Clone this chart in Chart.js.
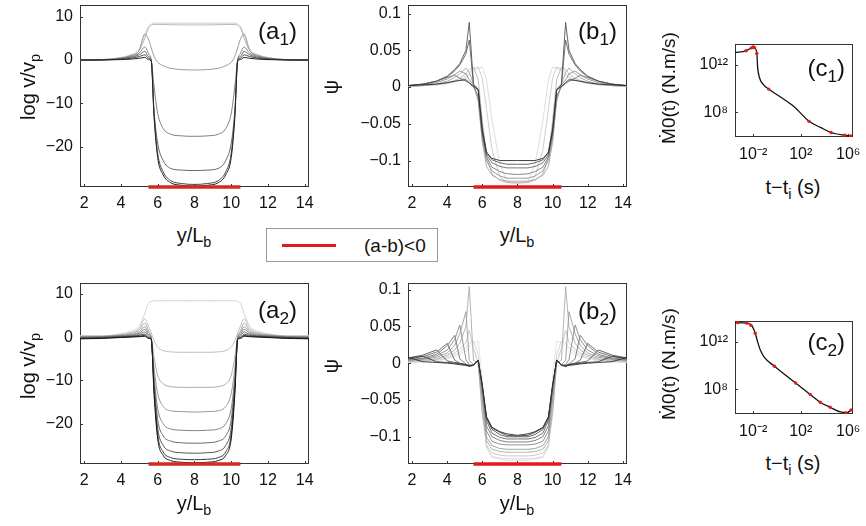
<!DOCTYPE html>
<html>
<head>
<meta charset="utf-8">
<script src="https://cdn.jsdelivr.net/npm/chart.js@4.4.0/dist/chart.umd.min.js"></script>
<style>
  body { margin: 0; background: #fff; }
  #wrap { position: relative; width: 866px; height: 526px; overflow: hidden;
          font-family: 'Liberation Sans', Arial, sans-serif; color: #111; }
  .pane { position: absolute; }
  .lbl { position: absolute; white-space: nowrap; line-height: 1; }
  .c { transform: translate(-50%, -50%); }
  .r { transform: translate(-50%, -50%) rotate(-90deg); }
  .t { transform: translateY(-50%); }
  .lbl sub { font-size: 0.72em; vertical-align: -0.35em; line-height: 0; }
  .tag { font-size: 24px; }
  .ax { font-size: 20px; }
  #legend { position: absolute; left: 266px; top: 228px; width: 172px; height: 34px;
            box-sizing: border-box; border: 1px solid #999; background: #fff; }
  #legend .swatch { position: absolute; left: 15px; top: 15px; width: 54px; height: 3px; background: #e31a1c; }
  #legend .txt { position: absolute; left: 97px; top: 16px; font-size: 19px; line-height: 1; transform: translateY(-50%); }
</style>
</head>
<body>
<div id="wrap">
  <div class="pane" style="left:0;top:0"><canvas id="a1" width="321" height="217"></canvas></div>
  <div class="pane" style="left:330px;top:0"><canvas id="b1" width="309" height="217"></canvas></div>
  <div class="pane" style="left:660px;top:0"><canvas id="c1" width="206" height="167"></canvas></div>
  <div class="pane" style="left:0;top:278px"><canvas id="a2" width="321" height="216"></canvas></div>
  <div class="pane" style="left:330px;top:278px"><canvas id="b2" width="309" height="216"></canvas></div>
  <div class="pane" style="left:660px;top:270px"><canvas id="c2" width="206" height="174"></canvas></div>

  <div class="lbl ax r" style="left:28px;top:87px">log v/v<sub>p</sub></div>
  <div class="lbl ax r" style="left:28px;top:366px">log v/v<sub>p</sub></div>
  <div class="lbl ax r" style="left:331px;top:87px">ψ</div>
  <div class="lbl ax r" style="left:331px;top:366px">ψ</div>
  <div class="lbl ax r" style="left:668px;top:88px;font-size:19px">Ṁ0(t) (N.m/s)</div>
  <div class="lbl ax r" style="left:668px;top:364px;font-size:19px">Ṁ0(t) (N.m/s)</div>
  <div class="lbl ax c" style="left:194px;top:235px">y/L<sub>b</sub></div>
  <div class="lbl ax c" style="left:517px;top:235px">y/L<sub>b</sub></div>
  <div class="lbl ax c" style="left:194px;top:503px">y/L<sub>b</sub></div>
  <div class="lbl ax c" style="left:517px;top:503px">y/L<sub>b</sub></div>
  <div class="lbl ax c" style="left:793px;top:187px">t−t<sub>i</sub> (s)</div>
  <div class="lbl ax c" style="left:793px;top:463px">t−t<sub>i</sub> (s)</div>

  <div class="lbl tag t" style="right:569px;top:31px">(a<sub>1</sub>)</div>
  <div class="lbl tag t" style="right:249px;top:31px">(b<sub>1</sub>)</div>
  <div class="lbl tag t" style="right:21px;top:68px">(c<sub>1</sub>)</div>
  <div class="lbl tag t" style="right:569px;top:310px">(a<sub>2</sub>)</div>
  <div class="lbl tag t" style="right:249px;top:311px">(b<sub>2</sub>)</div>
  <div class="lbl tag t" style="right:21px;top:342px">(c<sub>2</sub>)</div>

  <div id="legend"><div class="swatch"></div><div class="txt">(a-b)&lt;0</div></div>
</div>

<script>
const FONT = "'Liberation Sans', Arial, sans-serif";

// positions along the fault, y/Lb
const xA = [1.78, 3, 4, 4.5, 5, 5.3, 5.5, 5.65, 5.8, 6, 6.3, 6.7, 7.3, 8, 8.7, 9.3, 9.7, 10, 10.2, 10.35, 10.5, 10.7, 11, 11.5, 12, 13, 14.23];
const xB = [1.775, 2.62, 3.39, 4.01, 4.43, 4.72, 5.07, 5.26, 5.5, 5.77, 6.0, 6.24, 6.55, 7.0, 7.4, 8, 8.6, 9.0, 9.45, 9.76, 10.0, 10.23, 10.5, 10.74, 10.93, 11.28, 11.57, 11.99, 12.61, 13.38, 14.23];

// (a1) log v/vp snapshots
const a1Curves = [
  [0, 0.1, 0.6, 1.2, 2.6, 5.8, 7.8, 8.3, 8.5, 8.5, 8.5, 8.5, 8.5, 8.5, 8.5, 8.5, 8.5, 8.5, 8.5, 8.3, 7.8, 5.8, 2.6, 1.2, 0.6, 0.1, 0],
  [0, 0.1, 0.5, 1.0, 2.2, 5.0, 7.4, 8.0, 8.2, 8.2, 8.2, 8.15, 8.1, 8.1, 8.1, 8.15, 8.2, 8.2, 8.2, 8.0, 7.4, 5.0, 2.2, 1.0, 0.5, 0.1, 0],
  [0, 0.1, 0.5, 1.0, 2.3, 6.0, 4.8, 2.8, 0.9, -0.5, -1.3, -1.9, -2.2, -2.3, -2.2, -1.9, -1.3, -0.5, 0.9, 2.8, 4.8, 6.0, 2.3, 1.0, 0.5, 0.1, 0],
  [0, 0.05, 0.4, 0.8, 1.6, 3.0, 1.5, 0, -6, -12.3, -15.8, -17.1, -17.5, -17.6, -17.5, -17.1, -15.8, -12.3, -6, 0, 1.5, 3.0, 1.6, 0.8, 0.4, 0.05, 0],
  [0, 0.05, 0.3, 0.6, 1.2, 2.0, 0.8, 0, -11.5, -19.2, -23.2, -25.0, -25.4, -25.5, -25.4, -25.0, -23.2, -19.2, -11.5, 0, 0.8, 2.0, 1.2, 0.6, 0.3, 0.05, 0],
  [0, 0.03, 0.2, 0.4, 0.8, 1.2, 0.4, -0.2, -12.3, -21.5, -25.8, -27.8, -28.5, -28.7, -28.5, -27.8, -25.8, -21.5, -12.3, -0.2, 0.4, 1.2, 0.8, 0.4, 0.2, 0.03, 0],
  [0, 0.02, 0.1, 0.2, 0.4, 0.6, 0.1, -0.3, -13, -22.5, -26.5, -28.3, -28.9, -29.1, -28.9, -28.3, -26.5, -22.5, -13, -0.3, 0.1, 0.6, 0.4, 0.2, 0.1, 0.02, 0]
];
const a1Colors = ['#cfcfcf', '#b8b8b8', '#9a9a9a', '#7e7e7e', '#646464', '#444444', '#222222'];

// (a2) log v/vp snapshots
const a2Curves = [
  [0.3, 0.3, 0.8, 1.3, 2.6, 5.5, 7.8, 8.2, 8.4, 8.4, 8.4, 8.4, 8.4, 8.4, 8.4, 8.4, 8.4, 8.4, 8.4, 8.2, 7.8, 5.5, 2.6, 1.3, 0.8, 0.3, 0.3],
  [0.25, 0.25, 0.6, 1.0, 2.0, 4.2, 2.5, 1.0, -0.8, -2.3, -3.1, -3.4, -3.5, -3.5, -3.5, -3.4, -3.1, -2.3, -0.8, 1.0, 2.5, 4.2, 2.0, 1.0, 0.6, 0.25, 0.25],
  [0.2, 0.2, 0.5, 0.8, 1.6, 3.2, 1.5, 0, -4.5, -8.8, -10.8, -11.4, -11.6, -11.6, -11.6, -11.4, -10.8, -8.8, -4.5, 0, 1.5, 3.2, 1.6, 0.8, 0.5, 0.2, 0.2],
  [0.1, 0.15, 0.4, 0.6, 1.2, 2.4, 1.0, -0.2, -7, -13, -16, -17, -17.2, -17.3, -17.2, -17, -16, -13, -7, -0.2, 1.0, 2.4, 1.2, 0.6, 0.4, 0.15, 0.1],
  [0, 0.1, 0.3, 0.45, 0.9, 1.8, 0.6, -0.3, -9, -16.5, -20, -21.2, -21.5, -21.6, -21.5, -21.2, -20, -16.5, -9, -0.3, 0.6, 1.8, 0.9, 0.45, 0.3, 0.1, 0],
  [-0.1, 0, 0.2, 0.3, 0.6, 1.2, 0.3, -0.4, -10, -19, -22.8, -24, -24.4, -24.5, -24.4, -24, -22.8, -19, -10, -0.4, 0.3, 1.2, 0.6, 0.3, 0.2, 0, -0.1],
  [-0.2, -0.1, 0.1, 0.2, 0.4, 0.7, 0, -0.5, -11, -21, -25, -26.3, -26.7, -26.8, -26.7, -26.3, -25, -21, -11, -0.5, 0, 0.7, 0.4, 0.2, 0.1, -0.1, -0.2],
  [-0.3, -0.2, 0, 0.1, 0.2, 0.4, -0.2, -0.5, -12, -22.5, -26.5, -27.8, -28.2, -28.3, -28.2, -27.8, -26.5, -22.5, -12, -0.5, -0.2, 0.4, 0.2, 0.1, 0, -0.2, -0.3],
  [-0.4, -0.3, -0.1, 0, 0.1, 0.2, -0.3, -0.5, -13, -23.5, -27.3, -28.5, -28.9, -29.0, -28.9, -28.5, -27.3, -23.5, -13, -0.5, -0.3, 0.2, 0.1, 0, -0.1, -0.3, -0.4]
];
const a2Colors = ['#d2d2d2', '#bebebe', '#aaaaaa', '#969696', '#828282', '#6c6c6c', '#545454', '#383838', '#151515'];

// (b1) psi snapshots
const b1Curves = [
  [0.001, 0.002, 0.003, 0.005, 0.007, 0.009, 0.012, 0.016, 0.022, 0.026, 0.027, 0.01, -0.045, -0.105, -0.128, -0.131, -0.128, -0.105, -0.045, 0.01, 0.027, 0.026, 0.022, 0.016, 0.012, 0.009, 0.007, 0.005, 0.003, 0.002, 0.001],
  [0.001, 0.002, 0.003, 0.005, 0.007, 0.01, 0.014, 0.019, 0.025, 0.027, 0.012, -0.03, -0.085, -0.122, -0.13, -0.131, -0.13, -0.122, -0.085, -0.03, 0.012, 0.027, 0.025, 0.019, 0.014, 0.01, 0.007, 0.005, 0.003, 0.002, 0.001],
  [0.001, 0.002, 0.004, 0.006, 0.009, 0.012, 0.018, 0.024, 0.027, 0.01, -0.045, -0.095, -0.118, -0.127, -0.13, -0.13, -0.13, -0.127, -0.118, -0.095, -0.045, 0.01, 0.027, 0.024, 0.018, 0.012, 0.009, 0.006, 0.004, 0.002, 0.001],
  [0.001, 0.002, 0.004, 0.008, 0.013, 0.018, 0.026, 0.02, 0.004, -0.02, -0.075, -0.108, -0.12, -0.126, -0.128, -0.128, -0.128, -0.126, -0.12, -0.108, -0.075, -0.02, 0.004, 0.02, 0.026, 0.018, 0.013, 0.008, 0.004, 0.002, 0.001],
  [0.002, 0.003, 0.006, 0.011, 0.017, 0.022, 0.018, 0.01, 0.003, -0.015, -0.07, -0.1, -0.114, -0.121, -0.124, -0.124, -0.124, -0.121, -0.114, -0.1, -0.07, -0.015, 0.003, 0.01, 0.018, 0.022, 0.017, 0.011, 0.006, 0.003, 0.002],
  [0.002, 0.004, 0.008, 0.013, 0.016, 0.012, 0.008, 0.005, 0.0, -0.012, -0.065, -0.095, -0.109, -0.115, -0.118, -0.119, -0.118, -0.115, -0.109, -0.095, -0.065, -0.012, 0.0, 0.005, 0.008, 0.012, 0.016, 0.013, 0.008, 0.004, 0.002],
  [0.002, 0.004, 0.008, 0.014, 0.022, 0.03, 0.045, 0.064, 0.003, -0.004, -0.06, -0.092, -0.103, -0.108, -0.11, -0.11, -0.11, -0.108, -0.103, -0.092, -0.06, -0.004, 0.003, 0.064, 0.045, 0.03, 0.022, 0.014, 0.008, 0.004, 0.002],
  [0.002, 0.004, 0.008, 0.015, 0.024, 0.032, 0.05, 0.088, 0.004, -0.003, -0.055, -0.088, -0.099, -0.103, -0.105, -0.105, -0.105, -0.103, -0.099, -0.088, -0.055, -0.003, 0.004, 0.088, 0.05, 0.032, 0.024, 0.015, 0.008, 0.004, 0.002],
  [0.002, 0.003, 0.004, 0.006, 0.008, 0.009, 0.01, 0.006, 0.001, -0.004, -0.06, -0.09, -0.097, -0.1, -0.1, -0.1, -0.1, -0.1, -0.097, -0.09, -0.06, -0.004, 0.001, 0.006, 0.01, 0.009, 0.008, 0.006, 0.004, 0.003, 0.002]
];
const b1Colors = ['#dadada', '#cacaca', '#b8b8b8', '#a4a4a4', '#909090', '#7c7c7c', '#666666', '#555555', '#2a2a2a'];

// (b2) psi snapshots
const b2Curves = [
  [0.001, 0.002, 0.003, 0.006, 0.009, 0.012, 0.017, 0.022, 0.028, 0.03, -0.02, -0.11, -0.128, -0.131, -0.132, -0.132, -0.132, -0.131, -0.128, -0.11, -0.02, 0.03, 0.028, 0.022, 0.017, 0.012, 0.009, 0.006, 0.003, 0.002, 0.001],
  [0.001, 0.002, 0.004, 0.007, 0.011, 0.015, 0.021, 0.027, 0.03, 0.012, -0.05, -0.115, -0.127, -0.129, -0.13, -0.13, -0.13, -0.129, -0.127, -0.115, -0.05, 0.012, 0.03, 0.027, 0.021, 0.015, 0.011, 0.007, 0.004, 0.002, 0.001],
  [0.002, 0.003, 0.005, 0.009, 0.014, 0.019, 0.028, 0.045, 0.02, 0.0, -0.07, -0.112, -0.122, -0.125, -0.126, -0.126, -0.126, -0.125, -0.122, -0.112, -0.07, 0.0, 0.02, 0.045, 0.028, 0.019, 0.014, 0.009, 0.005, 0.003, 0.002],
  [0.003, 0.004, 0.006, 0.011, 0.018, 0.027, 0.05, 0.104, 0.004, 0.0, -0.065, -0.105, -0.117, -0.12, -0.121, -0.121, -0.121, -0.12, -0.117, -0.105, -0.065, 0.0, 0.004, 0.104, 0.05, 0.027, 0.018, 0.011, 0.006, 0.004, 0.003],
  [0.004, 0.005, 0.008, 0.014, 0.024, 0.04, 0.07, 0.004, -0.002, 0.003, -0.05, -0.1, -0.112, -0.116, -0.117, -0.117, -0.117, -0.116, -0.112, -0.1, -0.05, 0.003, -0.002, 0.004, 0.07, 0.04, 0.024, 0.014, 0.008, 0.005, 0.004],
  [0.004, 0.006, 0.01, 0.018, 0.032, 0.052, 0.005, -0.002, -0.003, 0.004, -0.04, -0.092, -0.106, -0.11, -0.111, -0.111, -0.111, -0.11, -0.106, -0.092, -0.04, 0.004, -0.003, -0.002, 0.005, 0.052, 0.032, 0.018, 0.01, 0.006, 0.004],
  [0.005, 0.007, 0.012, 0.024, 0.038, 0.006, -0.001, -0.003, -0.003, 0.004, -0.035, -0.085, -0.1, -0.105, -0.107, -0.107, -0.107, -0.105, -0.1, -0.085, -0.035, 0.004, -0.003, -0.003, -0.001, 0.006, 0.038, 0.024, 0.012, 0.007, 0.005],
  [0.006, 0.009, 0.015, 0.027, 0.004, 0.0, -0.002, -0.003, -0.003, 0.004, -0.032, -0.078, -0.095, -0.101, -0.103, -0.103, -0.103, -0.101, -0.095, -0.078, -0.032, 0.004, -0.003, -0.003, -0.002, 0.0, 0.004, 0.027, 0.015, 0.009, 0.006],
  [0.007, 0.011, 0.018, 0.003, 0.001, 0.0, -0.002, -0.004, -0.003, 0.004, -0.031, -0.075, -0.09, -0.097, -0.1, -0.1, -0.1, -0.097, -0.09, -0.075, -0.031, 0.004, -0.003, -0.004, -0.002, 0.0, 0.001, 0.003, 0.018, 0.011, 0.007],
  [0.007, 0.0095, 0.002, 0.001, 0.0, -0.001, -0.002, -0.004, -0.003, 0.004, -0.03, -0.073, -0.088, -0.094, -0.098, -0.099, -0.098, -0.094, -0.088, -0.073, -0.03, 0.004, -0.003, -0.004, -0.002, -0.001, 0.0, 0.001, 0.002, 0.0095, 0.007],
  [0.008, 0.002, 0.001, 0.0, -0.001, -0.002, -0.003, -0.004, -0.002, 0.004, -0.03, -0.073, -0.087, -0.093, -0.096, -0.098, -0.096, -0.093, -0.087, -0.073, -0.03, 0.004, -0.002, -0.004, -0.003, -0.002, -0.001, 0.0, 0.001, 0.002, 0.008]
];
const b2Colors = ['#e2e2e2', '#d4d4d4', '#c4c4c4', '#acacac', '#9a9a9a', '#888888', '#767676', '#646464', '#525252', '#404040', '#2e2e2e'];

// (c) moment rate Mdot0(t) vs t - ti
const tC1 = [2.95e-4, 2.51e-3, 7.94e-3, 1.12e-2, 1.48e-2, 2.04e-2, 2.34e-2, 3.47e-2, 7.59e-2, 0.2, 2.0, 26.9, 501, 5010, 3.55e4, 4.9e5, 2.51e6];
const mC1 = [1.15e13, 1.58e13, 2.95e13, 3.31e13, 2.51e13, 9.33e12, 7.24e11, 7.94e10, 2.14e10, 9.33e9, 2.0e9, 3.16e8, 1.78e7, 5.25e6, 2.04e6, 1.2e6, 1.0e6];
const tR1 = [2.51e-3, 7.08e-3, 1e-2, 1.26e-2, 2.04e-2, 0.2, 501, 3.55e4, 4.9e5, 1.58e6];
const mR1 = [1.58e13, 2.75e13, 3.31e13, 3.02e13, 9.33e12, 9.33e9, 1.78e7, 2.04e6, 1.2e6, 1.05e6];
const tC2 = [3.02e-4, 2.95e-3, 7.94e-3, 1.48e-2, 2.34e-2, 3.98e-2, 8.71e-2, 0.617, 37.2, 631, 4370, 3.02e4, 2.14e5, 7.94e5, 1.7e6, 2.2e6];
const mC2 = [4.37e13, 3.89e13, 2.29e13, 5.5e12, 1.07e12, 2.09e11, 5.01e10, 9.12e9, 3.47e8, 3.72e7, 8.32e6, 3.16e6, 1.26e6, 1.1e6, 1.86e6, 2.0e6];
const tR2 = [5.01e-4, 2.95e-3, 6.31e-3, 1.48e-2, 0.617, 37.2, 631, 4370, 3.02e4, 6.31e5, 1.7e6];
const mR2 = [4.27e13, 3.89e13, 2.6e13, 5.5e12, 9.12e9, 3.47e8, 3.72e7, 8.32e6, 3.16e6, 1.12e6, 1.86e6];

// region where (a-b)<0
const redBarX = [5.5, 10.5];

const xTicksAB = [2, 4, 6, 8, 10, 12, 14];
const yTicksA = [10, 0, -10, -20];
const yTicksB = [0.1, 0.05, 0, -0.05, -0.1];
const xTicksC = [1e-2, 1e2, 1e6];
const xLabelsC = ['10⁻²', '10²', '10⁶'];
const yTicksC = [1e8, 1e12];
const yLabelsC = ['10⁸', '10¹²'];

const RED = '#e31a1c';

// box around the plot plus short inward ticks
const framePlugin = {
  id: 'frame',
  beforeDatasetsDraw(chart) {
    const { ctx, chartArea: a, scales } = chart;
    ctx.save();
    ctx.strokeStyle = '#333';
    ctx.lineWidth = 1;
    ctx.strokeRect(a.left + 0.5, a.top + 0.5, a.right - a.left - 1, a.bottom - a.top - 1);
    ctx.beginPath();
    scales.x.ticks.forEach(t => {
      const px = Math.round(scales.x.getPixelForValue(t.value)) + 0.5;
      ctx.moveTo(px, a.bottom);
      ctx.lineTo(px, a.bottom - 3);
    });
    scales.y.ticks.forEach(t => {
      const py = Math.round(scales.y.getPixelForValue(t.value)) + 0.5;
      ctx.moveTo(a.left, py);
      ctx.lineTo(a.left + 3, py);
    });
    ctx.stroke();
    ctx.restore();
  }
};

const minus = v => String(v).replace('-', '−');

function profileSets(xs, curves, colors, width, smooth, yMin, barColor) {
  const sets = curves.map((ys, i) => ({
    data: xs.map((x, k) => ({ x: x, y: ys[k] })),
    borderColor: colors[i],
    borderWidth: width,
    pointRadius: 0,
    tension: 0,
    cubicInterpolationMode: smooth ? 'monotone' : 'default',
    order: curves.length - i + 1
  }));
  sets.push({
    data: redBarX.map(x => ({ x: x, y: yMin })),
    borderColor: barColor,
    borderWidth: 3.5,
    pointRadius: 0,
    clip: false,
    order: 0
  });
  return sets;
}

function rateSets(ts, ms, tr, mr) {
  return [
    {
      data: ts.map((t, k) => ({ x: t, y: ms[k] })),
      borderColor: '#111',
      borderWidth: 1.3,
      pointRadius: 0,
      cubicInterpolationMode: 'monotone',
      order: 2
    },
    {
      data: tr.map((t, k) => ({ x: t, y: mr[k] })),
      showLine: false,
      pointRadius: 1.7,
      pointBorderWidth: 0,
      pointBackgroundColor: RED,
      order: 1
    }
  ];
}

function noPad(s) {
  s.paddingTop = 0; s.paddingBottom = 0; s.paddingLeft = 0; s.paddingRight = 0;
}

function makePanel(id, p) {
  const tickFont = { family: FONT, size: 16 };
  return new Chart(document.getElementById(id), {
    type: 'line',
    data: { datasets: p.datasets },
    options: {
      responsive: false,
      animation: false,
      devicePixelRatio: 1,
      events: [],
      layout: { padding: { top: p.top, right: p.right, left: 0, bottom: 0 } },
      plugins: { legend: { display: false }, tooltip: { enabled: false } },
      scales: {
        x: {
          type: p.xType, min: p.xMin, max: p.xMax,
          grid: { display: false, drawTicks: false },
          border: { display: false },
          afterBuildTicks: s => { s.ticks = p.xTicks.map(v => ({ value: v })); },
          afterFit: s => { s.height = 30; noPad(s); },
          ticks: { padding: p.xPad, autoSkip: false, maxRotation: 0, font: tickFont, color: '#111', callback: p.xFmt }
        },
        y: {
          type: p.yType, min: p.yMin, max: p.yMax,
          grid: { display: false, drawTicks: false },
          border: { display: false },
          afterBuildTicks: s => { s.ticks = p.yTicks.map(v => ({ value: v })); },
          afterFit: s => { s.width = p.yW; noPad(s); },
          ticks: { padding: 7, autoSkip: false, font: tickFont, color: '#111', callback: p.yFmt }
        }
      }
    },
    plugins: [framePlugin]
  });
}

const xMinAB = 1.775, xMaxAB = 14.23;

makePanel('a1', {
  datasets: profileSets(xA, a1Curves, a1Colors, 1, true, -29.3, '#cf2a24'),
  top: 5, right: 12, yW: 80, xPad: 7,
  xType: 'linear', xMin: xMinAB, xMax: xMaxAB, xTicks: xTicksAB, xFmt: minus,
  yType: 'linear', yMin: -29.3, yMax: 12.7, yTicks: yTicksA, yFmt: minus
});
makePanel('a2', {
  datasets: profileSets(xA, a2Curves, a2Colors, 1, true, -29.3, '#cf2a24'),
  top: 5, right: 12, yW: 80, xPad: 7,
  xType: 'linear', xMin: xMinAB, xMax: xMaxAB, xTicks: xTicksAB, xFmt: minus,
  yType: 'linear', yMin: -29.3, yMax: 12.5, yTicks: yTicksA, yFmt: minus
});
makePanel('b1', {
  datasets: profileSets(xB, b1Curves, b1Colors, 0.9, false, -0.136, RED),
  top: 5, right: 12, yW: 78, xPad: 7,
  xType: 'linear', xMin: xMinAB, xMax: xMaxAB, xTicks: xTicksAB, xFmt: minus,
  yType: 'linear', yMin: -0.136, yMax: 0.1117, yTicks: yTicksB, yFmt: minus
});
makePanel('b2', {
  datasets: profileSets(xB, b2Curves, b2Colors, 0.9, false, -0.137, RED),
  top: 5, right: 12, yW: 78, xPad: 7,
  xType: 'linear', xMin: xMinAB, xMax: xMaxAB, xTicks: xTicksAB, xFmt: minus,
  yType: 'linear', yMin: -0.137, yMax: 0.109, yTicks: yTicksB, yFmt: minus
});
makePanel('c1', {
  datasets: rateSets(tC1, mC1, tR1, mR1),
  top: 44, right: 13, yW: 75, xPad: 8,
  xType: 'logarithmic', xMin: 2.95e-4, xMax: 2.51e6, xTicks: xTicksC, xFmt: (v, i) => xLabelsC[i],
  yType: 'logarithmic', yMin: 8.5e5, yMax: 5.89e13, yTicks: yTicksC, yFmt: (v, i) => yLabelsC[i]
});
makePanel('c2', {
  datasets: rateSets(tC2, mC2, tR2, mR2),
  top: 51, right: 13, yW: 75, xPad: 8,
  xType: 'logarithmic', xMin: 2.95e-4, xMax: 2.51e6, xTicks: xTicksC, xFmt: (v, i) => xLabelsC[i],
  yType: 'logarithmic', yMin: 8.5e5, yMax: 5.89e13, yTicks: yTicksC, yFmt: (v, i) => yLabelsC[i]
});
</script>
</body>
</html>
